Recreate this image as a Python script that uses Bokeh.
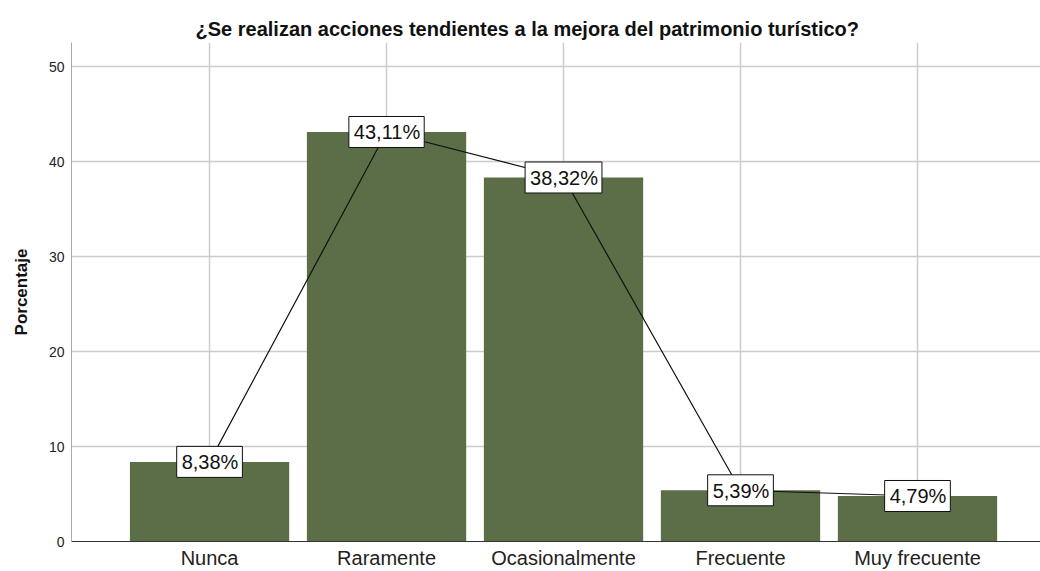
from bokeh.plotting import figure
from bokeh.models import ColumnDataSource, FixedTicker, Range1d, Title
from bokeh.core.properties import value
from bokeh.embed import file_html
from bokeh.resources import INLINE

categories = ["Nunca", "Raramente", "Ocasionalmente", "Frecuente", "Muy frecuente"]
values = [8.38, 43.11, 38.32, 5.39, 4.79]
labels = ["8,38%", "43,11%", "38,32%", "5,39%", "4,79%"]
y_ticks = [0, 10, 20, 30, 40, 50]

xs = list(range(len(categories)))
src = ColumnDataSource(dict(x=xs, top=values, lab=labels))

FONT = "Liberation Sans"

p = figure(width=1040, height=571, output_backend="svg", toolbar_location=None,
           x_range=Range1d(-0.78, 4.695), y_range=Range1d(0, 52.53),
           min_border_left=71, min_border_right=0, min_border_top=42, min_border_bottom=30)
p.outline_line_color = None
p.background_fill_color = "white"

t = Title(text="¿Se realizan acciones tendientes a la mejora del patrimonio turístico?",
          align="left", offset=124, text_font=FONT, text_font_size="20px",
          text_font_style="bold", text_color="#111111", standoff=5)
p.add_layout(t, "above")

p.vbar(x="x", top="top", width=0.9, bottom=0, source=src,
       fill_color="#5b6e47", line_color=None)
p.line(x="x", y="top", source=src, line_color="#111111", line_width=1.2)

p.text(x="x", y="top", text="lab", source=src, text_align="center",
       text_baseline="middle", text_font=value(FONT), text_font_size="20px",
       text_color="#111111", background_fill_color="white",
       border_line_color="#111111", border_line_width=1, padding=(5, 4, 5, 4))

p.xaxis.ticker = FixedTicker(ticks=xs)
p.xaxis.major_label_overrides = {i: c for i, c in enumerate(categories)}
p.xaxis.major_label_text_font = FONT
p.xaxis.major_label_text_font_size = "20px"
p.xaxis.major_label_text_color = "#222222"
p.xaxis.major_tick_line_color = None
p.xaxis.major_tick_out = 0
p.xaxis.major_tick_in = 0
p.xaxis.minor_tick_line_color = None
p.xaxis.axis_line_color = "#333333"
p.xaxis.major_label_standoff = 5

p.yaxis.ticker = FixedTicker(ticks=y_ticks)
p.yaxis.major_label_text_font = FONT
p.yaxis.major_label_text_font_size = "14px"
p.yaxis.major_label_text_color = "#222222"
p.yaxis.major_tick_line_color = None
p.yaxis.major_tick_out = 0
p.yaxis.major_tick_in = 0
p.yaxis.minor_tick_line_color = None
p.yaxis.axis_line_color = "#aaaaaa"
p.yaxis.major_label_standoff = 7
p.yaxis.axis_label = "Porcentaje"
p.yaxis.axis_label_text_font = FONT
p.yaxis.axis_label_text_font_size = "17px"
p.yaxis.axis_label_text_font_style = "bold"
p.yaxis.axis_label_text_color = "#111111"
p.yaxis.axis_label_standoff = 15

p.xgrid.ticker = FixedTicker(ticks=xs)
p.xgrid.grid_line_color = "#cccccc"
p.xgrid.grid_line_width = 1.5
p.ygrid.ticker = FixedTicker(ticks=y_ticks)
p.ygrid.grid_line_color = "#cccccc"
p.ygrid.grid_line_width = 1.5

open("out.html", "w").write(file_html(p, INLINE))
